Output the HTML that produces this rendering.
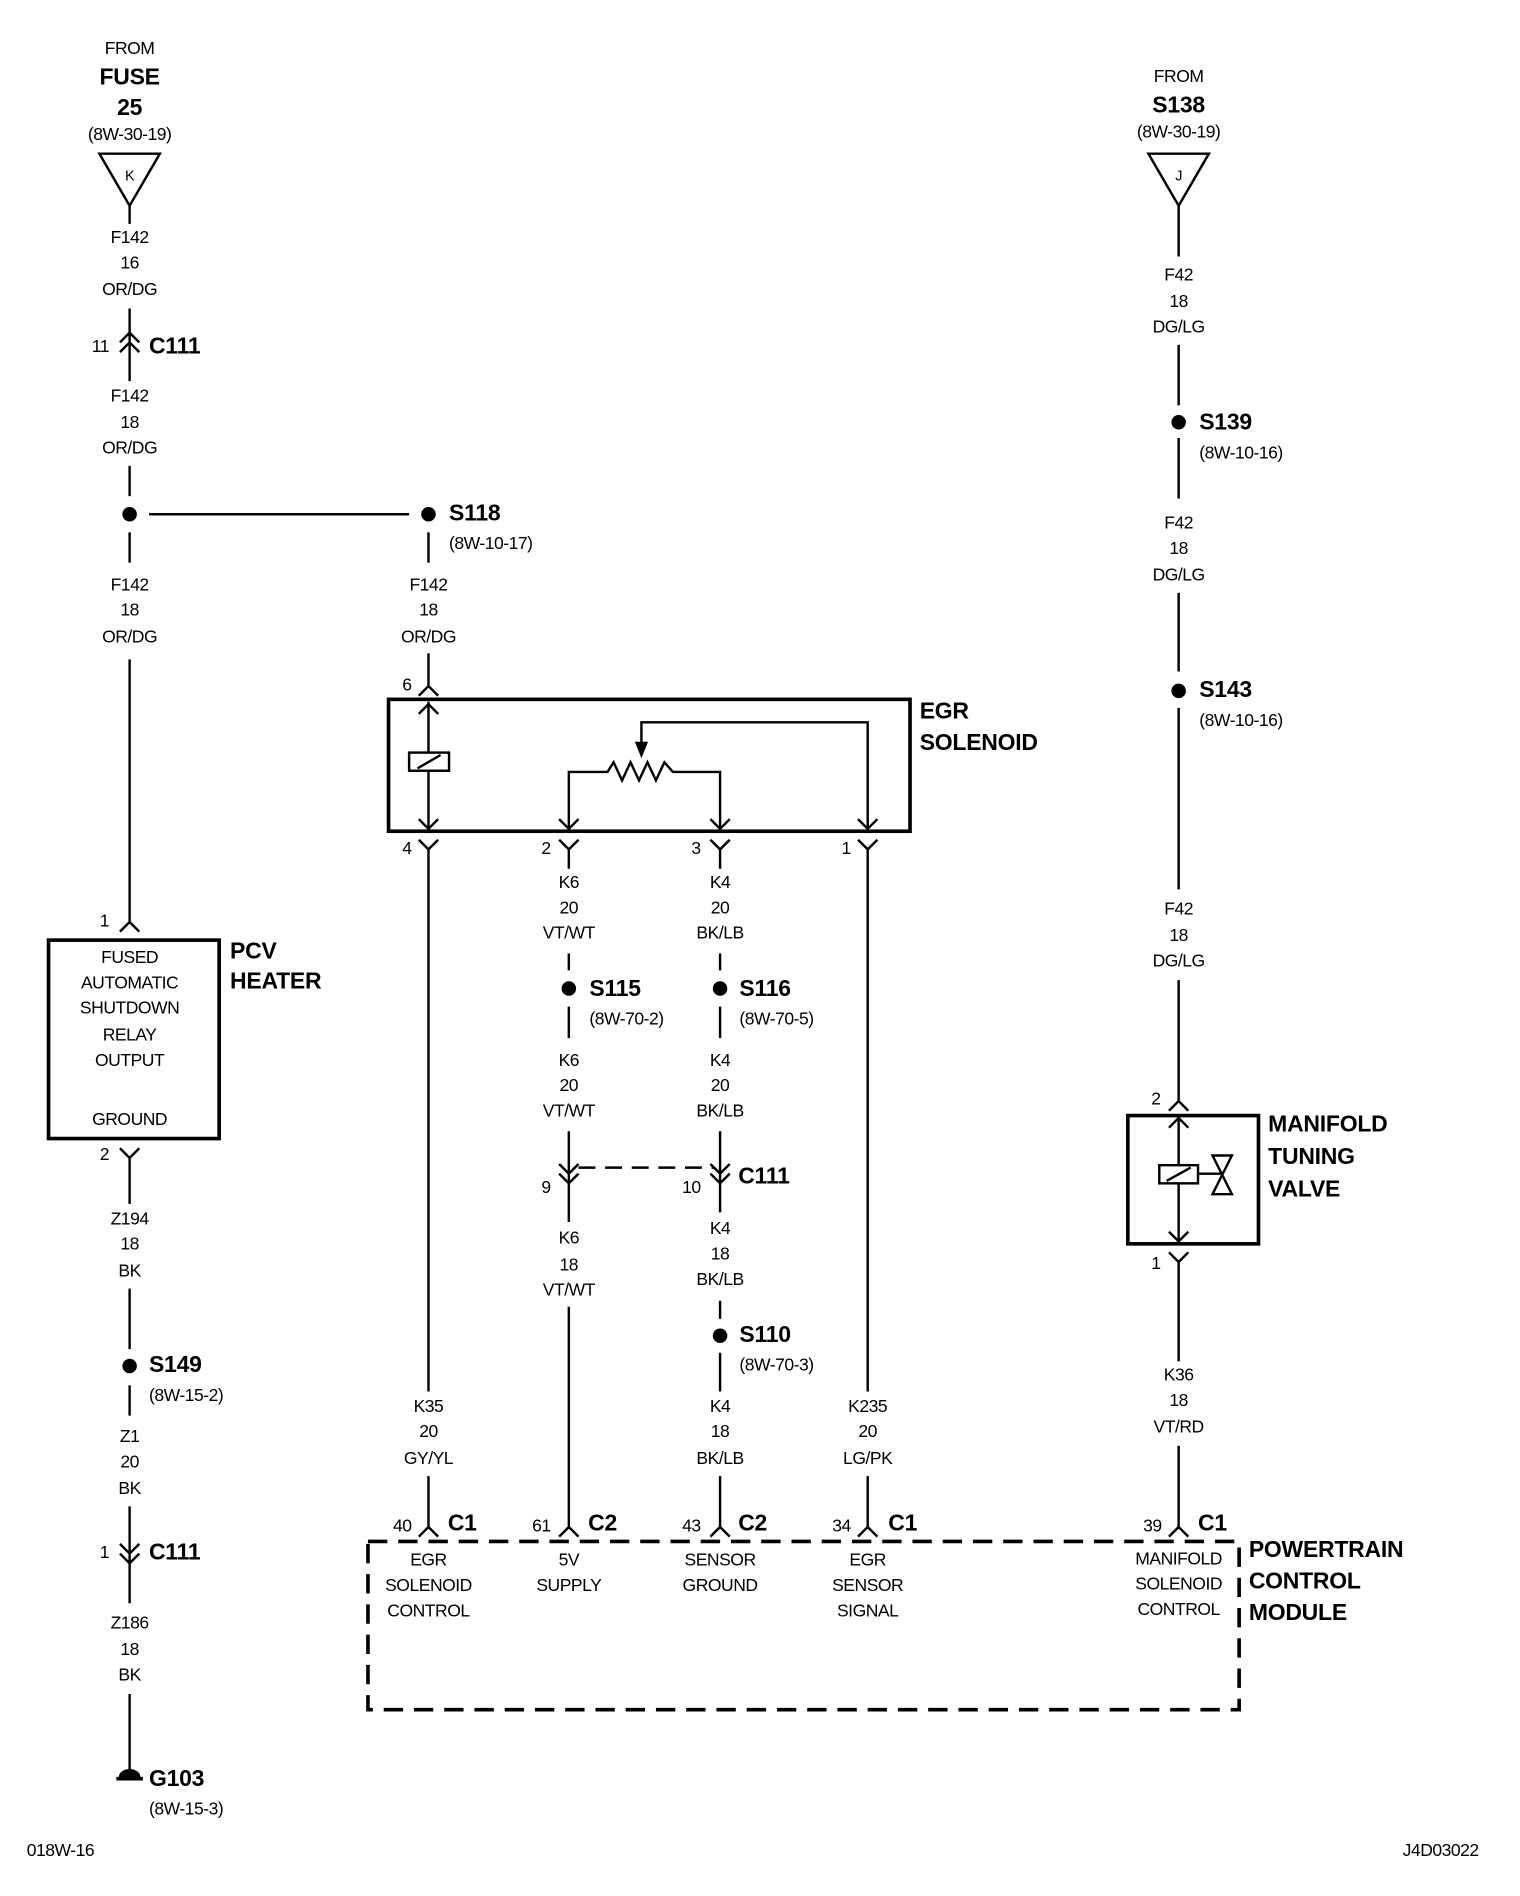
<!DOCTYPE html>
<html><head><meta charset="utf-8"><style>
html,body{margin:0;padding:0;background:#fff;}
svg{display:block;}
text{font-family:"Liberation Sans",sans-serif;font-size:14.5px;fill:#000;text-anchor:middle;dominant-baseline:middle;letter-spacing:-0.4px;}
.b{font-weight:bold;font-size:19px;text-anchor:start;letter-spacing:-0.2px;}
.s{text-anchor:start;}
.e{text-anchor:end;}
</style></head><body>
<svg width="1520" height="1896" viewBox="0 0 1256 1567" xmlns="http://www.w3.org/2000/svg">
<g stroke="#000" stroke-width="2" fill="none">
<path d="M82,127 L132,127 L107,170 Z"/>
<path d="M107,170 V185 M107,255 V315 M99,283 L107,275 L115,283 M99,291 L107,283 L115,291"/>
<path d="M107,385 V410 M107,440 V465 M107,545 V762 M99,770 L107,762 L115,770"/>
<path d="M123,425 H338"/>
<rect x="40" y="777" width="141" height="164" stroke-width="3"/>
<path d="M99,949 L107,957 L115,949 M107,957 V995 M107,1065 V1115 M107,1145 V1170 M107,1245 V1325 M99,1276 L107,1284 L115,1276 M99,1284 L107,1292 L115,1284 M107,1400 V1466"/>
<path d="M96,1470 H118" stroke-width="3"/>
<path d="M354,440 V465 M354,540 V567 M346,575 L354,567 L362,575"/>
<rect x="321" y="578" width="431" height="109" stroke-width="3"/>
<path d="M354,580 V685 M346,590 L354,582 L362,590 M346,677 L354,685 L362,677"/>
<rect x="338" y="622" width="33" height="15" fill="#fff"/>
<path d="M345,635 L364,624"/>
<path d="M470,685 V638 H502 L507,630 L514,645 L521,630 L528,645 L535,630 L542,645 L549,630 L556,638 H595 V685 M462,677 L470,685 L478,677 M587,677 L595,685 L603,677"/>
<path d="M717,685 V597 H530 V622 M717,685 M709,677 L717,685 L725,677"/>
<path d="M526,614 L530,624 L534,614 Z" fill="#000"/>
<path d="M346,694 L354,702 L362,694 M354,702 V1150 M354,1220 V1262 M346,1270 L354,1262 L362,1270"/>
<path d="M462,694 L470,702 L478,694 M470,702 V718 M470,788 V802 M470,832 V858 M470,935 V985 M462,962 L470,970 L478,962 M462,970 L470,978 L478,970 M470,978 V1010 M470,1080 V1262 M462,1270 L470,1262 L478,1270"/>
<path d="M587,694 L595,702 L603,694 M595,702 V718 M595,788 V802 M595,832 V858 M595,935 V985 M587,962 L595,970 L603,962 M587,970 L595,978 L603,970 M595,978 V1002 M595,1075 V1090 M595,1118 V1150 M595,1220 V1262 M587,1270 L595,1262 L603,1270"/>
<path d="M478,965 H590" stroke-dasharray="14,8"/>
<path d="M709,694 L717,702 L725,694 M717,702 V1150 M717,1220 V1262 M709,1270 L717,1262 L725,1270"/>
<path d="M949,127 L999,127 L974,170 Z"/>
<path d="M974,170 V212 M974,285 V335 M974,362 V412 M974,490 V555 M974,585 V735 M974,810 V910 M966,918 L974,910 L982,918"/>
<rect x="932" y="922" width="108" height="106" stroke-width="3"/>
<path d="M966,1035 L974,1043 L982,1035 M974,1043 V1125 M974,1195 V1262 M966,1270 L974,1262 L982,1270"/>
<path d="M966,932 L974,924 L982,932 M974,924 V1026 M966,1018 L974,1026 L982,1018"/>
<rect x="958" y="963" width="32" height="15" fill="#fff"/>
<path d="M964,976 L984,965 M990,970 H1010 M1002,955 L1018,987 H1002 L1018,955 Z"/>
<rect x="304" y="1274" width="720" height="139" stroke-width="3" stroke-dasharray="16,9"/>
</g>
<g fill="#000">
<circle cx="107" cy="425" r="6"/><circle cx="354" cy="425" r="6"/>
<circle cx="470" cy="817" r="6"/><circle cx="595" cy="817" r="6"/>
<circle cx="595" cy="1104" r="6"/><circle cx="107" cy="1129" r="6"/>
<circle cx="974" cy="349" r="6"/><circle cx="974" cy="571" r="6"/>
<path d="M98,1469 a9,7 0 0 1 18,0 Z"/>
</g>
<text x="107" y="41">FROM</text>
<text x="107" y="65" class="b" style="text-anchor:middle">FUSE</text>
<text x="107" y="90" class="b" style="text-anchor:middle">25</text>
<text x="107" y="112">(8W-30-19)</text>
<text x="107" y="146" style="font-size:12px">K</text>
<text x="107" y="197">F142</text><text x="107" y="218">16</text><text x="107" y="240">OR/DG</text>
<text x="90" y="287" class="e">11</text><text x="123" y="287" class="b">C111</text>
<text x="107" y="328">F142</text><text x="107" y="350">18</text><text x="107" y="371">OR/DG</text>
<text x="371" y="425" class="b">S118</text><text x="371" y="450" class="s">(8W-10-17)</text>
<text x="107" y="484">F142</text><text x="107" y="505">18</text><text x="107" y="527">OR/DG</text>
<text x="354" y="484">F142</text><text x="354" y="505">18</text><text x="354" y="527">OR/DG</text>
<text x="90" y="762" class="e">1</text>
<text x="107" y="792">FUSED</text><text x="107" y="813">AUTOMATIC</text><text x="107" y="834">SHUTDOWN</text><text x="107" y="856">RELAY</text><text x="107" y="877">OUTPUT</text><text x="107" y="926">GROUND</text>
<text x="190" y="787" class="b">PCV</text><text x="190" y="812" class="b">HEATER</text>
<text x="90" y="955" class="e">2</text>
<text x="107" y="1008">Z194</text><text x="107" y="1029">18</text><text x="107" y="1051">BK</text>
<text x="123" y="1129" class="b">S149</text><text x="123" y="1154" class="s">(8W-15-2)</text>
<text x="107" y="1188">Z1</text><text x="107" y="1209">20</text><text x="107" y="1231">BK</text>
<text x="90" y="1284" class="e">1</text><text x="123" y="1284" class="b">C111</text>
<text x="107" y="1342">Z186</text><text x="107" y="1364">18</text><text x="107" y="1385">BK</text>
<text x="123" y="1471" class="b">G103</text><text x="123" y="1496" class="s">(8W-15-3)</text>
<text x="22" y="1530" class="s">018W-16</text>
<text x="1222" y="1530" class="e">J4D03022</text>
<text x="340" y="567" class="e">6</text>
<text x="760" y="589" class="b">EGR</text><text x="760" y="615" class="b">SOLENOID</text>
<text x="340" y="702" class="e">4</text><text x="455" y="702" class="e">2</text><text x="579" y="702" class="e">3</text><text x="703" y="702" class="e">1</text>
<text x="470" y="730">K6</text><text x="470" y="751">20</text><text x="470" y="772">VT/WT</text>
<text x="595" y="730">K4</text><text x="595" y="751">20</text><text x="595" y="772">BK/LB</text>
<text x="487" y="818" class="b">S115</text><text x="487" y="843" class="s">(8W-70-2)</text>
<text x="611" y="818" class="b">S116</text><text x="611" y="843" class="s">(8W-70-5)</text>
<text x="470" y="877">K6</text><text x="470" y="898">20</text><text x="470" y="919">VT/WT</text>
<text x="595" y="877">K4</text><text x="595" y="898">20</text><text x="595" y="919">BK/LB</text>
<text x="455" y="982" class="e">9</text><text x="579" y="982" class="e">10</text><text x="610" y="973" class="b">C111</text>
<text x="470" y="1024">K6</text><text x="470" y="1046">18</text><text x="470" y="1067">VT/WT</text>
<text x="595" y="1016">K4</text><text x="595" y="1037">18</text><text x="595" y="1058">BK/LB</text>
<text x="611" y="1104" class="b">S110</text><text x="611" y="1129" class="s">(8W-70-3)</text>
<text x="354" y="1163">K35</text><text x="354" y="1184">20</text><text x="354" y="1206">GY/YL</text>
<text x="595" y="1163">K4</text><text x="595" y="1184">18</text><text x="595" y="1206">BK/LB</text>
<text x="717" y="1163">K235</text><text x="717" y="1184">20</text><text x="717" y="1206">LG/PK</text>
<text x="340" y="1262" class="e">40</text><text x="370" y="1260" class="b">C1</text>
<text x="455" y="1262" class="e">61</text><text x="486" y="1260" class="b">C2</text>
<text x="579" y="1262" class="e">43</text><text x="610" y="1260" class="b">C2</text>
<text x="703" y="1262" class="e">34</text><text x="734" y="1260" class="b">C1</text>
<text x="960" y="1262" class="e">39</text><text x="990" y="1260" class="b">C1</text>
<text x="354" y="1290">EGR</text><text x="354" y="1311">SOLENOID</text><text x="354" y="1332">CONTROL</text>
<text x="470" y="1290">5V</text><text x="470" y="1311">SUPPLY</text>
<text x="595" y="1290">SENSOR</text><text x="595" y="1311">GROUND</text>
<text x="717" y="1290">EGR</text><text x="717" y="1311">SENSOR</text><text x="717" y="1332">SIGNAL</text>
<text x="974" y="1289">MANIFOLD</text><text x="974" y="1310">SOLENOID</text><text x="974" y="1331">CONTROL</text>
<text x="1032" y="1282" class="b">POWERTRAIN</text><text x="1032" y="1308" class="b">CONTROL</text><text x="1032" y="1334" class="b">MODULE</text>
<text x="974" y="64">FROM</text>
<text x="974" y="88" class="b" style="text-anchor:middle">S138</text>
<text x="974" y="110">(8W-30-19)</text>
<text x="974" y="146" style="font-size:12px">J</text>
<text x="974" y="228">F42</text><text x="974" y="250">18</text><text x="974" y="271">DG/LG</text>
<text x="991" y="350" class="b">S139</text><text x="991" y="375" class="s">(8W-10-16)</text>
<text x="974" y="433">F42</text><text x="974" y="454">18</text><text x="974" y="476">DG/LG</text>
<text x="991" y="571" class="b">S143</text><text x="991" y="596" class="s">(8W-10-16)</text>
<text x="974" y="752">F42</text><text x="974" y="774">18</text><text x="974" y="795">DG/LG</text>
<text x="959" y="909" class="e">2</text>
<text x="1048" y="930" class="b">MANIFOLD</text><text x="1048" y="957" class="b">TUNING</text><text x="1048" y="984" class="b">VALVE</text>
<text x="959" y="1045" class="e">1</text>
<text x="974" y="1137">K36</text><text x="974" y="1158">18</text><text x="974" y="1180">VT/RD</text>
</svg>
</body></html>
